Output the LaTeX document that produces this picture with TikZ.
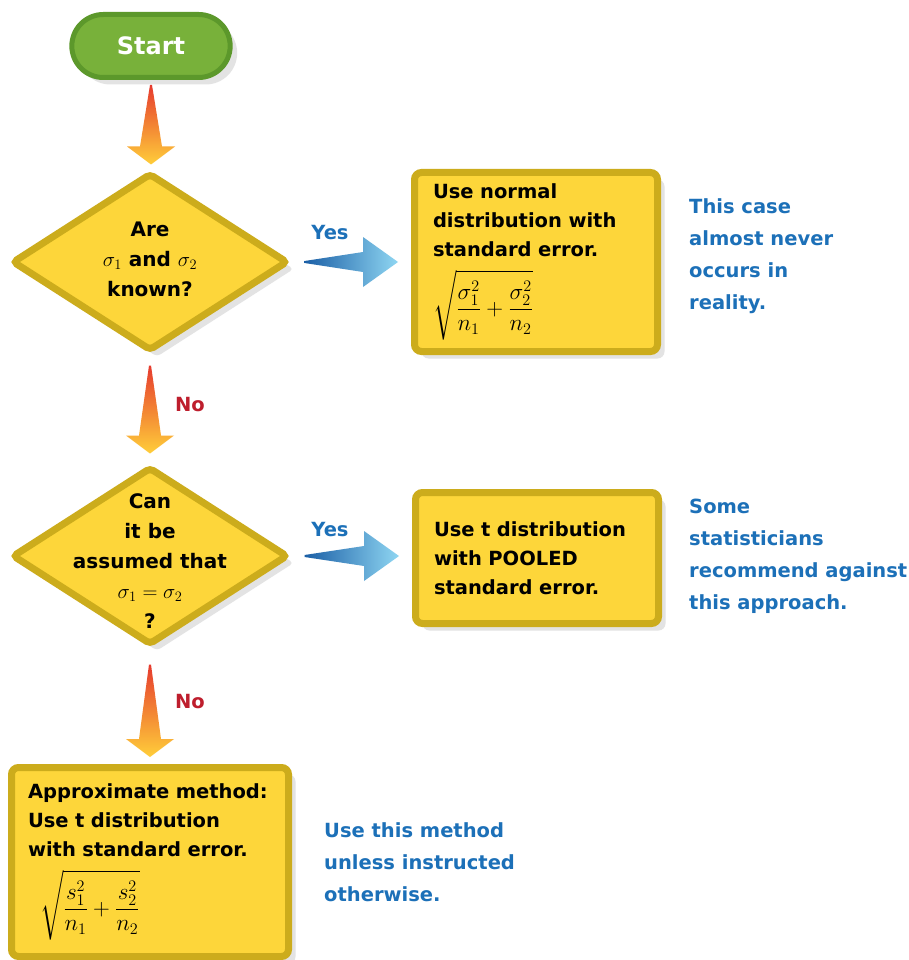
\documentclass[tikz,border=0pt]{standalone}
\usepackage{amsmath,graphicx}
\usepackage{fontspec}
\setmainfont{DejaVu Sans}
\definecolor{boxyellow}{RGB}{253,214,58}
\definecolor{boxgold}{RGB}{204,172,28}
\definecolor{startgreen}{RGB}{120,177,58}
\definecolor{startdark}{RGB}{92,152,43}
\definecolor{arrred}{RGB}{230,58,46}
\definecolor{arrorange}{RGB}{246,139,38}
\definecolor{arryellow}{RGB}{255,206,58}
\definecolor{arrblue}{RGB}{27,95,166}
\definecolor{arrcyan}{RGB}{143,214,242}
\definecolor{noteblue}{RGB}{28,112,184}
\definecolor{nored}{RGB}{190,30,45}
\usetikzlibrary{calc,shapes.geometric,shapes.misc,shadows}

\newcommand{\boxfont}{\fontsize{19.5}{29}\selectfont\bfseries}
\newcommand{\dfont}{\fontsize{20}{30}\selectfont\bfseries}
\newcommand{\notefont}{\fontsize{19.5}{32}\selectfont\bfseries}
\newcommand{\bigformula}[1]{\scalebox{1.12}{$\displaystyle#1$}}
% tapered flow arrows
\newcommand{\flowdown}[2]{%
  \shade[top color=arrred,middle color=arrorange,bottom color=arryellow]
    let \p1=(#1), \p2=(#2) in
    (\x1-1pt,\y1) -- (\x1+1pt,\y1) -- (\x1+11pt,\y2+18pt) -- (\x1+24pt,\y2+18pt)
    -- (\x1,\y2) -- (\x1-24pt,\y2+18pt) -- (\x1-11pt,\y2+18pt) -- cycle;}
\newcommand{\flowright}[2]{%
  \shade[left color=arrblue,right color=arrcyan]
    let \p1=(#1), \p2=(#2) in
    (\x1,\y1-1pt) -- (\x1,\y1+1pt) -- (\x2-35pt,\y1+10pt) -- (\x2-35pt,\y1+25pt)
    -- (\x2,\y1) -- (\x2-35pt,\y1-25pt) -- (\x2-35pt,\y1-10pt) -- cycle;}

\begin{document}
\begin{tikzpicture}[x=1pt,y=-1pt,
  softshadow/.style={drop shadow={shadow xshift=7pt,shadow yshift=-7pt,fill=black!18,opacity=.6}},
  startnode/.style={rounded rectangle,fill=startgreen,draw=startdark,line width=5pt,
    minimum width=165pt,minimum height=63pt,text=white,
    font=\fontsize{24}{28}\selectfont\bfseries,softshadow},
  procbox/.style={rectangle,rounded corners=7pt,fill=boxyellow,draw=boxgold,line width=7pt,
    align=left,font=\boxfont,inner sep=0pt,softshadow},
  decision/.style={diamond,fill=boxyellow,draw=boxgold,line width=7pt,rounded corners=4pt,
    minimum width=276pt,minimum height=178pt,inner sep=0pt,softshadow},
  dtext/.style={font=\dfont,align=center,inner sep=0pt},
  note/.style={font=\notefont,text=noteblue,align=left,anchor=base west,inner sep=0pt},
  yeslabel/.style={font=\boxfont,text=noteblue},
  nolabel/.style={font=\boxfont,text=nored}
]
  \useasboundingbox[fill=white] (0,0) rectangle (909,960);
  % Start and decisions
  \node[startnode] (start) at (151,46) {Start};
  \node[decision] (d1) at (150,262) {};
  \node[dtext] at ($(d1)+(0,-3)$) {Are\\$\sigma_1$ and $\sigma_2$\\known?};
  \node[decision] (d2) at (150,556) {};
  \node[dtext] at ($(d2)+(0,5)$) {Can\\it be\\assumed that\\$\sigma_1=\sigma_2$\\?};
  % Result boxes
  \node[procbox,minimum width=243pt,minimum height=179pt,text width=206pt] (b1) at (536,262)
    {Use normal\\distribution with\\standard error.\\[12pt]
     \bigformula{\sqrt{\frac{\sigma_1^2}{n_1}+\frac{\sigma_2^2}{n_2}}}};
  \node[procbox,minimum width=243pt,minimum height=131pt,text width=206pt] (b2) at (537,558)
    {Use t distribution\\with POOLED\\standard error.};
  \node[procbox,minimum width=277pt,minimum height=189pt,text width=244pt] (b3) at (150,862)
    {Approximate method:\\Use t distribution\\with standard error.\\[12pt]
     \hspace*{12pt}\bigformula{\sqrt{\frac{s_1^2}{n_1}+\frac{s_2^2}{n_2}}}};
  % Arrows
  \flowdown{$(start.south)+(0,5)$}{$(d1.north)+(0,-5)$}
  \flowdown{$(d1.south)+(0,11)$}{$(d2.north)+(0,-10)$}
  \flowdown{$(d2.south)+(0,16)$}{$(b3.north)+(0,-7)$}
  \flowright{$(d1.east)+(13,0)$}{$(b1.west)+(-13,0)$}
  \flowright{$(d2.east)+(13,0)$}{$(b2.west)+(-13,0)$}
  % Branch labels
  \node[yeslabel] at (330,233) {Yes};
  \node[yeslabel] at (330,530) {Yes};
  \node[nolabel] at (190,405) {No};
  \node[nolabel] at (190,702) {No};
  % Side notes
  \node[note] at (689,309) {This case\\almost never\\occurs in\\reality.};
  \node[note] at (689,609) {Some\\statisticians\\recommend against\\this approach.};
  \node[note] at (324,901) {Use this method\\unless instructed\\otherwise.};
\end{tikzpicture}
\end{document}
